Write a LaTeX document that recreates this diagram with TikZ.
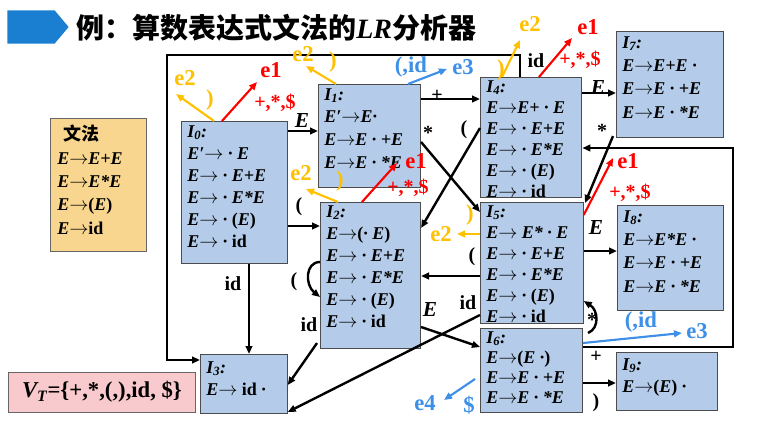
\documentclass[tikz,border=0pt]{standalone}
\usepackage{fontspec}
\setmainfont{Liberation Serif}
\newfontfamily\cjk{Noto Sans CJK SC}
\usetikzlibrary{arrows.meta,calc,shapes.arrows,shapes.symbols}
\definecolor{boxfill}{HTML}{B4CCE9}
\definecolor{gramfill}{HTML}{F8D68F}
\definecolor{vtfill}{HTML}{F9CACD}
\definecolor{eorange}{HTML}{FFC000}
\definecolor{ered}{HTML}{FF0000}
\definecolor{eblue}{HTML}{3D8FE8}
\definecolor{titleblue}{HTML}{1A7FD0}
\newcommand\up[1]{\textup{#1}}
\newcommand\ra{$\rightarrow$}
\tikzset{
  stbox/.style={draw=black!70, line width=0.8pt, fill=boxfill, anchor=north west, inner sep=0pt},
  sttext/.style={anchor=north west, align=left, inner sep=0pt, font=\fontsize{13.5}{16.5}\selectfont\bfseries\itshape},
  tr/.style={-{Triangle[length=6pt,width=5pt]}, line width=1.8pt, black},
  lbl/.style={font=\fontsize{15}{15}\selectfont\bfseries, inner sep=0pt},
  lbli/.style={font=\fontsize{16}{16}\selectfont\bfseries\itshape, inner sep=0pt},
  errO/.style={-{Triangle[length=6pt,width=5pt]}, line width=1.6pt, eorange},
  errR/.style={-{Triangle[length=6pt,width=5pt]}, line width=1.6pt, ered},
  errB/.style={-{Triangle[length=6pt,width=5pt]}, line width=1.6pt, eblue},
  elO/.style={font=\fontsize{17}{17}\selectfont\bfseries, text=eorange, inner sep=0pt},
  elR/.style={font=\fontsize{17}{17}\selectfont\bfseries, text=ered, inner sep=0pt},
  elB/.style={font=\fontsize{17}{17}\selectfont\bfseries, text=eblue, inner sep=0pt},
  slR/.style={font=\fontsize{15}{15}\selectfont\bfseries, text=ered, inner sep=0pt},
}
\begin{document}
\begin{tikzpicture}[x=0.75pt,y=-0.75pt]
\useasboundingbox (0,0) rectangle (757,422);
% title
\node[signal, signal to=east, fill=titleblue, minimum width=46pt, minimum height=25pt, inner sep=0pt, anchor=west, signal pointer angle=100] (tarrow) at (7,27) {};
\node[anchor=west, inner sep=0pt, font=\fontsize{21}{21}\selectfont\bfseries] (title) at (76,28) {{\cjk 例：算数表达式文法的}\textit{LR}{\cjk 分析器}};
% grammar
\node[draw=black!60, fill=gramfill, minimum width=72pt, minimum height=100pt, anchor=north west, inner sep=0pt] (gram) at (50,118) {};
\node[sttext, font=\fontsize{13.5}{17.5}\selectfont\bfseries\itshape] (gramt) at (57,125) {\hspace*{5pt}{\cjk\upshape 文法}\\E\ra E+E\\E\ra E*E\\E\ra\up{(}E\up{)}\\E\ra\up{id}};
% VT
\node[draw=black!60, fill=vtfill, minimum width=140pt, minimum height=30pt, anchor=north west, inner sep=0pt] (vt) at (8,372) {};
\node[font=\fontsize{17}{17}\selectfont\bfseries, inner sep=0pt] (vtt) at (102,392) {\textit{V\textsubscript{T}}=\{+,*,(,),id, \$\}};
% states
\node[stbox, minimum width=79.5pt, minimum height=106.5pt] (I0) at (181,121) {};
\node[sttext] (t0) at (187,125) {I\textsubscript{0}:\\E′\ra\ · E\\E\ra\ · E+E\\E\ra\ · E*E\\E\ra\ · \up{(}E\up{)}\\E\ra\ · \up{id}};
\node[stbox, minimum width=76.5pt, minimum height=77pt] (I1) at (318,84) {};
\node[sttext, font=\fontsize{13.5}{17}\selectfont\bfseries\itshape] (t1) at (324,88) {I\textsubscript{1}:\\E′\ra E·\\E\ra E · +E\\E\ra E · *E};
\node[stbox, minimum width=75pt, minimum height=109.5pt] (I2) at (320,202) {};
\node[sttext] (t2) at (326,205) {I\textsubscript{2}:\\E\ra\up{(}· E\up{)}\\E\ra\ · E+E\\E\ra\ · E*E\\E\ra\ · \up{(}E\up{)}\\E\ra\ · \up{id}};
\node[stbox, minimum width=65pt, minimum height=44pt] (I3) at (200,354) {};
\node[sttext] (t3) at (206,361) {I\textsubscript{3}:\\E\ra\ \up{id} ·};
\node[stbox, minimum width=76pt, minimum height=90pt] (I4) at (480,77) {};
\node[sttext, font=\fontsize{13.5}{15.8}\selectfont\bfseries\itshape] (t4) at (486,80) {I\textsubscript{4}:\\E\ra E+ · E\\E\ra\ · E+E\\E\ra\ · E*E\\E\ra\ · \up{(}E\up{)}\\E\ra\ · \up{id}};
\node[stbox, minimum width=77pt, minimum height=91pt] (I5) at (480,202) {};
\node[sttext, font=\fontsize{13.5}{15.8}\selectfont\bfseries\itshape] (t5) at (486,205) {I\textsubscript{5}:\\E\ra\ E* · E\\E\ra\ · E+E\\E\ra\ · E*E\\E\ra\ · \up{(}E\up{)}\\E\ra\ · \up{id}};
\node[stbox, minimum width=76.5pt, minimum height=63pt] (I6) at (480,328) {};
\node[sttext, font=\fontsize{13.5}{15}\selectfont\bfseries\itshape] (t6) at (486,331) {I\textsubscript{6}:\\E\ra\up{(}E ·\up{)}\\E\ra E · +E\\E\ra E · *E};
\node[stbox, minimum width=80pt, minimum height=79.5pt] (I7) at (616,31) {};
\node[sttext, font=\fontsize{13.5}{17.5}\selectfont\bfseries\itshape] (t7) at (622,36) {I\textsubscript{7}:\\E\ra E+E ·\\E\ra E · +E\\E\ra E · *E};
\node[stbox, minimum width=79.5pt, minimum height=79pt] (I8) at (617,205) {};
\node[sttext, font=\fontsize{13.5}{17.5}\selectfont\bfseries\itshape] (t8) at (623,210) {I\textsubscript{8}:\\E\ra E*E ·\\E\ra E · +E\\E\ra E · *E};
\node[stbox, minimum width=75.5pt, minimum height=43.5pt] (I9) at (616,352) {};
\node[sttext] (t9) at (622,358) {I\textsubscript{9}:\\E\ra\up{(}E\up{)} ·};
% transitions
\draw[tr] (I0.east |- 0,131) -- (I1.west |- 0,131);
\node[lbli] (lE01) at (302,121) {E};
\draw[tr] (I0.east |- 0,226) -- (I2.west |- 0,226);
\node[lbl] (lp02) at (299,207) {(};
\draw[tr] (I0.south -| 249,0) -- (I3.north -| 249,0);
\node[lbl] (lid03) at (233,284) {id};
\coordinate (c1) at (520,55);
\coordinate (c2) at (167,55);
\coordinate (c3) at (167,360);
\draw[tr] (I4.north -| 520,0) -- (c1) -- (c2) -- (c3) -- (I3.west |- 0,360);
\node[lbl] (lid43) at (536,61) {id};
\draw[tr] (I1.east |- 0,99) -- (I4.west |- 0,99);
\node[lbl] (lplus14) at (437,96) {+};
\draw[tr] (I1.east |- 0,142) -- (I5.west |- 0,212);
\node[lbl] (lst15) at (428,133) {*};
\draw[tr] (I4.west |- 0,128) -- (I2.east |- 0,228);
\node[lbl] (lp42) at (464,130) {(};
\draw[tr] (I2.west |- 0,262) .. controls (305,262) and (305,285) .. (I2.west |- 0,297);
\node[lbl] (lp22) at (294,282) {(};
\draw[tr] (I2.south west) ++(-3,-6) coordinate (s23) -- (I3.east |- 0,385);
\node[lbl] (lid23) at (309,325) {id};
\draw[tr] (I2.east |- 0,327) -- (I6.west |- 0,347);
\node[lbli] (lE26) at (430,310) {E};
\draw[tr] (I5.west |- 0,315) -- (I3.east |- 0,412);
\node[lbl] (lid53) at (468,303) {id};
\draw[tr] (I5.west |- 0,276) -- (I2.east |- 0,276);
\node[lbl] (lp52) at (472,257) {(};
\draw[tr] (I4.east |- 0,93) -- (I7.west |- 0,93);
\node[lbli] (lE47) at (598,88) {E};
\draw[tr] (I7.south west) ++(-3,-2) coordinate (s75) -- (585,203);
\node[lbl] (lst75) at (602,131) {*};
\coordinate (d1) at (733,347);
\coordinate (d2) at (733,148);
\draw[tr] (I6.east |- 0,347) -- (d1) -- (d2) -- (I4.east |- 0,148);
\node[lbl] (lplus64) at (596,357) {+};
\draw[tr] (I5.east |- 0,251) -- (I8.west |- 0,251);
\node[lbli] (lE58) at (596,228) {E};
\draw[tr] (588,333) .. controls (600,328) and (598,310) .. (I5.east |- 0,301);
\node[lbl] (lst55) at (592,320) {*};
\draw[tr] (I6.east |- 0,383) -- (I9.west |- 0,383);
\node[lbl] (lp69) at (596,403) {)};
% errors
\draw[errO] (I0.north -| 214,0) -- (176,94) coordinate (x0o);
\node[elO] (e2a) at (185,78) {e2};
\node[elO] (pa) at (210,100) {)};
\draw[errR] (I0.north -| 222,0) -- (257,82) coordinate (x0r);
\node[elR] (e1a) at (271,70) {e1};
\node[slR] (sa) at (275,103) {+,*,\$};
\draw[errO] (I1.north -| 336,0) -- (306,66) coordinate (x1o);
\node[elO] (e2b) at (303,54) {e2};
\node[elO] (pb) at (333,62) {)};
\draw[errB] (I1.north -| 408,0) -- (447,69) coordinate (x1b);
\node[elB] (lb1) at (411,67) {(,id};
\node[elB] (e3a) at (463,67) {e3};
\draw[errO] (I2.north -| 338,0) -- (306,189) coordinate (x2o);
\node[elO] (e2c) at (301,173) {e2};
\node[elO] (pc) at (340,181) {)};
\draw[errR] (I2.north -| 362,0) -- (397,163) coordinate (x2r);
\node[elR] (e1c) at (416,161) {e1};
\node[slR] (sc) at (408,188) {+,*,\$};
\draw[errO] (I4.north -| 502,0) -- (520,40) coordinate (x4o);
\node[elO] (e2d) at (530,24) {e2};
\node[elO] (pd) at (501,70) {)};
\draw[errR] (I4.north -| 539,0) -- (572,38) coordinate (x4r);
\node[elR] (e1d) at (588,27) {e1};
\node[slR] (sd) at (580,60) {+,*,\$};
\draw[errO] (I5.west |- 0,234) -- (457,234) coordinate (x5o);
\node[elO] (e2e) at (441,234) {e2};
\node[elO] (pe) at (470,215) {)};
\draw[errR] (I5.east |- 0,215) -- (613,158) coordinate (x5r);
\node[elR] (e1e) at (628,161) {e1};
\node[slR] (se) at (630,193) {+,*,\$};
\draw[errB] (I6.east |- 0,343) -- (682,333) coordinate (x6b);
\node[elB] (lb6) at (641,322) {(,id};
\node[elB] (e3b) at (697,331) {e3};
\draw[errB] (475,379) coordinate (s6e4) -- (444,400) coordinate (x6e4);
\node[elB] (e4) at (425,403) {e4};
\node[elB] (dl) at (469,405) {\$};
\end{tikzpicture}
\end{document}
